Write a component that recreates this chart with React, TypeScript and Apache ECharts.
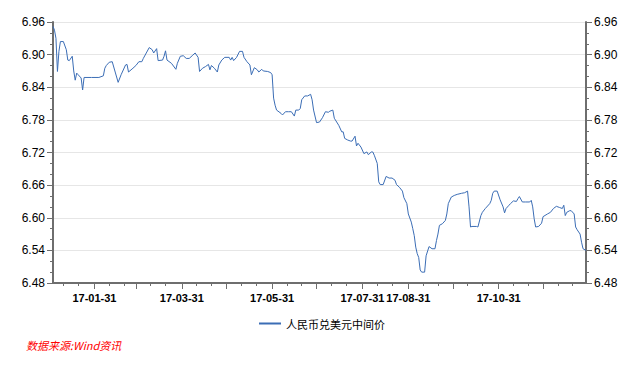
import React, { useEffect, useRef } from 'react';
import * as echarts from 'echarts';

const SERIES_NAME = '人民币兑美元中间价';
const SOURCE_TEXT = '数据来源:Wind资讯';
const YEAR_PREFIX = '17';
const FIRST_DAY = '2017-01-03';
const LAST_DAY = '2017-12-29';
const labelDates = ['01-31', '03-31', '05-31', '07-31', '08-31', '10-31'];
const yTicks = [6.48, 6.54, 6.6, 6.66, 6.72, 6.78, 6.84, 6.9, 6.96];

const midRate: [string, number][] = [
  ['01-03', 6.952], ['01-04', 6.945], ['01-05', 6.930], ['01-06', 6.869], ['01-07', 6.906],
  ['01-08', 6.924], ['01-10', 6.924], ['01-12', 6.909], ['01-13', 6.890], ['01-14', 6.889],
  ['01-16', 6.897], ['01-17', 6.870], ['01-18', 6.853], ['01-19', 6.866], ['01-20', 6.863],
  ['01-22', 6.857], ['01-23', 6.835], ['01-24', 6.858], ['01-29', 6.858],
  ['02-03', 6.858], ['02-06', 6.861], ['02-07', 6.875], ['02-08', 6.880], ['02-10', 6.886],
  ['02-12', 6.887], ['02-14', 6.868], ['02-16', 6.849], ['02-18', 6.863], ['02-21', 6.881],
  ['02-22', 6.882], ['02-23', 6.868], ['02-26', 6.875], ['02-28', 6.880],
  ['03-02', 6.887], ['03-04', 6.887], ['03-05', 6.893], ['03-07', 6.903], ['03-09', 6.913],
  ['03-11', 6.909], ['03-12', 6.903], ['03-14', 6.911], ['03-15', 6.889], ['03-18', 6.890],
  ['03-19', 6.897], ['03-20', 6.907], ['03-21', 6.890], ['03-24', 6.884], ['03-27', 6.873],
  ['03-28', 6.884], ['03-30', 6.897],
  ['04-01', 6.898], ['04-03', 6.893], ['04-05', 6.893], ['04-07', 6.898], ['04-09', 6.903],
  ['04-11', 6.895], ['04-12', 6.869], ['04-14', 6.875], ['04-16', 6.878], ['04-18', 6.882],
  ['04-19', 6.872], ['04-20', 6.880], ['04-22', 6.875], ['04-24', 6.868], ['04-25', 6.881],
  ['04-27', 6.890], ['04-29', 6.895],
  ['05-02', 6.895], ['05-03', 6.890], ['05-04', 6.895], ['05-05', 6.889], ['05-07', 6.895],
  ['05-09', 6.906], ['05-11', 6.906], ['05-12', 6.895], ['05-14', 6.887], ['05-16', 6.881],
  ['05-17', 6.863], ['05-19', 6.876], ['05-21', 6.872], ['05-22', 6.868], ['05-24', 6.873],
  ['05-25', 6.870], ['05-28', 6.869], ['05-30', 6.867], ['05-31', 6.863],
  ['06-01', 6.820], ['06-02', 6.807], ['06-03', 6.798], ['06-06', 6.792], ['06-07', 6.789],
  ['06-09', 6.795], ['06-11', 6.795], ['06-13', 6.795], ['06-15', 6.787], ['06-16', 6.798],
  ['06-18', 6.798], ['06-19', 6.801], ['06-20', 6.817], ['06-22', 6.824], ['06-24', 6.824],
  ['06-26', 6.827], ['06-27', 6.817], ['06-28', 6.798], ['06-30', 6.775],
  ['07-02', 6.776], ['07-04', 6.784], ['07-06', 6.795], ['07-08', 6.794], ['07-09', 6.796],
  ['07-11', 6.798], ['07-12', 6.783], ['07-15', 6.770], ['07-17', 6.758], ['07-18', 6.758],
  ['07-19', 6.746], ['07-21', 6.743], ['07-23', 6.741], ['07-24', 6.741], ['07-26', 6.750],
  ['07-27', 6.732], ['07-28', 6.737], ['07-30', 6.730],
  ['08-01', 6.718], ['08-03', 6.721], ['08-04', 6.716], ['08-06', 6.721], ['08-07', 6.721],
  ['08-08', 6.715], ['08-10', 6.700], ['08-11', 6.666], ['08-12', 6.661], ['08-14', 6.661],
  ['08-16', 6.676], ['08-18', 6.673], ['08-20', 6.673], ['08-22', 6.669], ['08-23', 6.661],
  ['08-25', 6.656], ['08-27', 6.649], ['08-28', 6.637], ['08-30', 6.626], ['08-31', 6.607],
  ['09-02', 6.592], ['09-03', 6.580], ['09-04', 6.567], ['09-05', 6.546], ['09-06', 6.534],
  ['09-07', 6.527], ['09-08', 6.504], ['09-09', 6.500], ['09-11', 6.500], ['09-12', 6.530],
  ['09-14', 6.547], ['09-16', 6.543], ['09-18', 6.543], ['09-19', 6.558], ['09-20', 6.570],
  ['09-21', 6.586], ['09-23', 6.589], ['09-25', 6.595], ['09-26', 6.607], ['09-27', 6.626],
  ['09-29', 6.638],
  ['10-01', 6.641], ['10-03', 6.643], ['10-06', 6.645], ['10-08', 6.646], ['10-10', 6.649],
  ['10-11', 6.620], ['10-12', 6.583], ['10-13', 6.584], ['10-16', 6.584], ['10-17', 6.583],
  ['10-19', 6.604], ['10-20', 6.610], ['10-22', 6.617], ['10-25', 6.626], ['10-26', 6.632],
  ['10-27', 6.645], ['10-28', 6.649], ['10-30', 6.649],
  ['11-01', 6.633], ['11-03', 6.620], ['11-04', 6.609], ['11-05', 6.617], ['11-07', 6.623],
  ['11-08', 6.626], ['11-10', 6.631], ['11-12', 6.630], ['11-13', 6.635], ['11-14', 6.639],
  ['11-16', 6.629], ['11-18', 6.629], ['11-21', 6.629], ['11-22', 6.632], ['11-23', 6.620],
  ['11-24', 6.598], ['11-25', 6.583], ['11-27', 6.584], ['11-29', 6.590], ['11-30', 6.602],
  ['12-03', 6.607], ['12-05', 6.610], ['12-07', 6.617], ['12-09', 6.621], ['12-11', 6.619],
  ['12-13', 6.617], ['12-14', 6.623], ['12-15', 6.604], ['12-16', 6.610], ['12-18', 6.613],
  ['12-19', 6.613], ['12-21', 6.607], ['12-22', 6.583], ['12-23', 6.578], ['12-25', 6.570],
  ['12-26', 6.555], ['12-27', 6.543], ['12-29', 6.540],
];

function pad(n: number) {
  return n < 10 ? '0' + n : '' + n;
}

function buildDays() {
  const days: string[] = [];
  const monthEnds = new Set<string>();
  const d = new Date(FIRST_DAY + 'T00:00:00Z');
  const end = new Date(LAST_DAY + 'T00:00:00Z');
  while (d.getTime() <= end.getTime()) {
    const key = pad(d.getUTCMonth() + 1) + '-' + pad(d.getUTCDate());
    days.push(key);
    const next = new Date(d.getTime() + 86400000);
    if (next.getUTCMonth() !== d.getUTCMonth()) monthEnds.add(key);
    d.setTime(next.getTime());
  }
  return { days, monthEnds };
}

const AXIS_COLOR = '#6e6e6e';
const LINE_COLOR = '#3b6db5';

export default function App() {
  const ref = useRef<HTMLDivElement>(null);
  useEffect(() => {
    document.body.style.margin = '0';
    if (!ref.current) return;
    const chart = echarts.init(ref.current, undefined, { renderer: 'svg' });
    const { days, monthEnds } = buildDays();
    const lookup = new Map<string, number>(midRate);
    const seriesData = days.map((k) => (lookup.has(k) ? lookup.get(k)! : null));
    const yMin = yTicks[0];
    const yMax = yTicks[yTicks.length - 1];
    const yInterval = Math.round((yTicks[1] - yTicks[0]) * 100) / 100;

    const yAxisBase = (position: 'left' | 'right', grid: boolean) => ({
      type: 'value',
      position,
      min: yMin,
      max: yMax,
      interval: yInterval,
      axisLine: { show: true, lineStyle: { color: AXIS_COLOR, width: 2 } },
      axisTick: { show: true, length: 6, lineStyle: { color: AXIS_COLOR, width: 1 } },
      minorTick: { show: true, splitNumber: 3, length: 3, lineStyle: { color: AXIS_COLOR, width: 1 } },
      axisLabel: {
        formatter: (v: number) => v.toFixed(2),
        fontSize: 12,
        fontFamily: 'Liberation Sans',
        color: '#000',
        margin: 8,
      },
      splitLine: { show: grid, lineStyle: { color: '#e6e6e6', width: 1 } },
      minorSplitLine: { show: false },
    });

    chart.setOption({
      animation: false,
      backgroundColor: '#fff',
      grid: { left: 53, right: 48, top: 22, bottom: 89, containLabel: false },
      title: {
        text: SOURCE_TEXT,
        left: 26,
        top: 339,
        padding: 0,
        textStyle: {
          color: '#ff0000',
          fontStyle: 'italic',
          fontWeight: 'normal',
          fontSize: 11,
          fontFamily: 'Noto Sans CJK SC',
        },
      },
      legend: {
        data: [SERIES_NAME],
        left: 259,
        top: 318,
        padding: 0,
        icon: 'rect',
        itemWidth: 22,
        itemHeight: 2,
        textStyle: { fontSize: 11, fontFamily: 'Noto Sans CJK SC', color: '#000' },
      },
      xAxis: [
        {
          type: 'category',
          data: days,
          boundaryGap: false,
          axisLine: { show: true, lineStyle: { color: AXIS_COLOR, width: 2 } },
          axisTick: {
            show: true,
            interval: (_i: number, v: string) => monthEnds.has(v),
            length: 6,
            lineStyle: { color: AXIS_COLOR, width: 1 },
          },
          axisLabel: {
            interval: (_i: number, v: string) => labelDates.includes(v),
            formatter: (v: string) => `${YEAR_PREFIX}-${v}`,
            fontWeight: 'bold',
            fontSize: 11,
            fontFamily: 'Liberation Sans',
            color: '#000',
            margin: 9,
          },
          splitLine: { show: false },
        },
        {
          type: 'category',
          data: days,
          boundaryGap: false,
          position: 'bottom',
          axisLine: { show: false },
          axisTick: {
            show: true,
            interval: (_i: number, v: string) => v.endsWith('-10') || v.endsWith('-20'),
            length: 3,
            lineStyle: { color: AXIS_COLOR, width: 1 },
          },
          axisLabel: { show: false },
          splitLine: { show: false },
        },
      ],
      yAxis: [yAxisBase('left', true), yAxisBase('right', false)],
      series: [
        {
          name: SERIES_NAME,
          type: 'line',
          xAxisIndex: 0,
          yAxisIndex: 0,
          data: seriesData,
          connectNulls: true,
          showSymbol: false,
          symbol: 'none',
          lineStyle: { color: LINE_COLOR, width: 1 },
          itemStyle: { color: LINE_COLOR },
        },
      ],
    });
    return () => chart.dispose();
  }, []);
  return <div ref={ref} style={{ width: 634, height: 372 }} />;
}
